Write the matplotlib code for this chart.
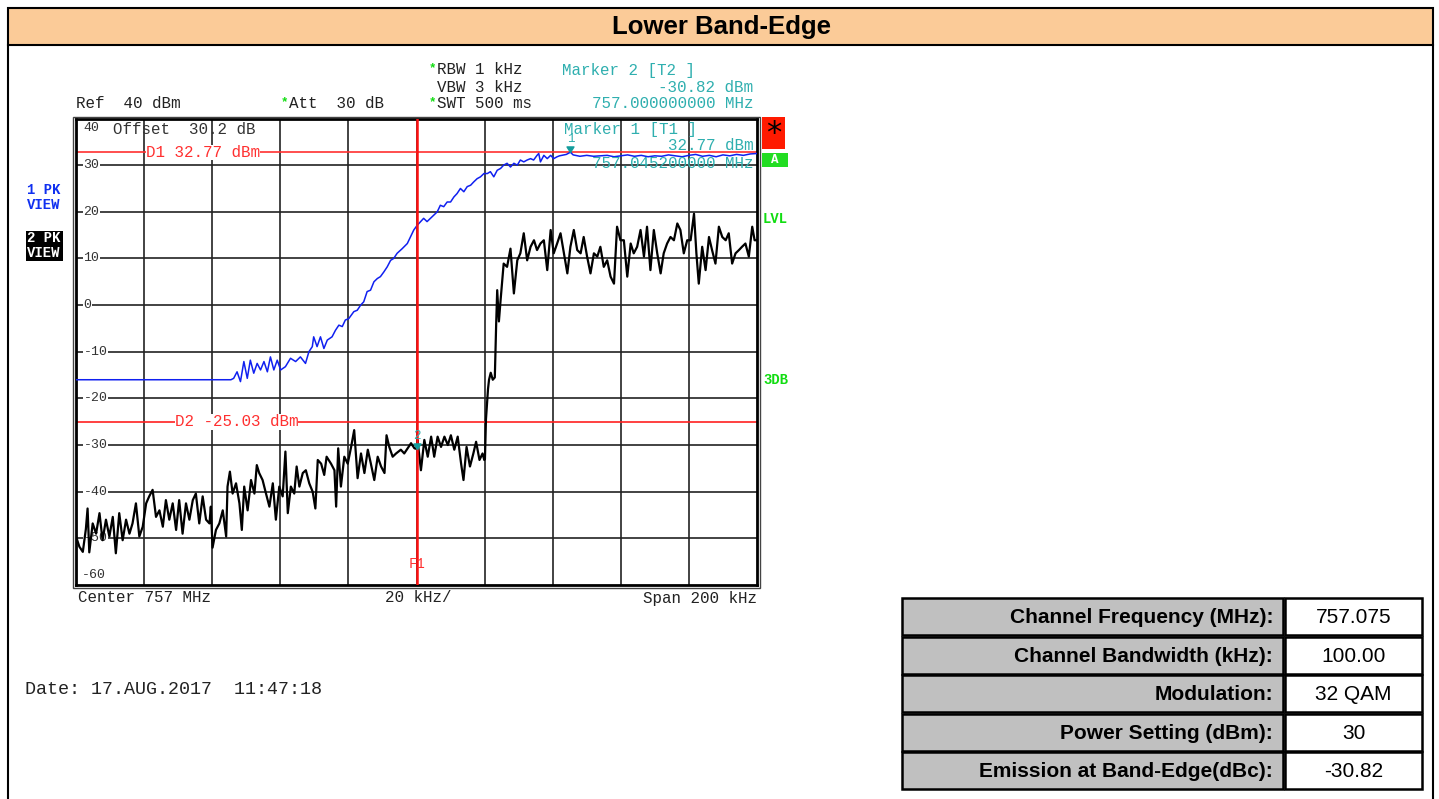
import matplotlib
matplotlib.use("Agg")
import matplotlib.pyplot as plt
from matplotlib.patches import Rectangle
from matplotlib.path import Path

# ---------------- data ----------------
title_text = "Lower Band-Edge"

# Trace 1 (blue, PK view): frequency offset from 757 MHz in kHz, level in dBm
trace1_freq_khz = [-100, -54.5, -53.7, -52.7, -51.7, -50.7, -49.7, -48.8, -47.8, -46.8,
                   -45.8, -44.8, -43.8, -42.9, -41.9, -40.9, -39.9, -38.5, -37.0, -35.5,
                   -34.1, -32.6, -31.6, -30.6, -30.2, -29.2, -28.2, -27.2, -26.2, -24.8,
                   -23.8, -22.8, -21.8, -20.9, -19.9, -18.4, -17.4, -16.4, -15.5, -14.5,
                   -13.5, -12.5, -11.5, -10.6, -9.6, -8.6, -7.6, -6.7, -5.7, -4.2,
                   -2.7, -1.8, -0.8, 0.2, 1.2, 2.1, 3.1, 4.1, 5.1, 6.1,
                   7.0, 8.0, 9.0, 10.0, 11.0, 11.9, 12.9, 13.9, 14.9, 15.9,
                   16.8, 17.8, 18.8, 19.8, 20.8, 21.7, 22.7, 23.7, 24.7, 25.6,
                   26.6, 27.6, 28.6, 29.6, 30.5, 31.5, 32.5, 33.5, 34.4, 35.4,
                   35.9, 36.4, 37.4, 38.4, 39.4, 40.3, 41.3, 42.0, 44.0, 45.2,
                   46.0, 48.0, 50.0, 52.0, 54.0, 56.0, 58.0, 60.0, 62.0, 64.0,
                   66.0, 68.0, 70.0, 72.0, 74.0, 76.0, 78.0, 80.0, 82.0, 84.0,
                   86.0, 88.0, 90.0, 92.0, 94.0, 96.0, 98.0, 100.0]
trace1_level_dbm = [-16.0, -16.0, -15.7, -14.3, -16.4, -12.1, -15.7, -11.8, -14.6, -12.5,
                    -13.9, -12.1, -14.3, -11.1, -13.9, -11.8, -13.9, -13.2, -11.4, -12.1,
                    -11.1, -12.5, -10.0, -8.9, -6.8, -8.9, -6.8, -9.3, -7.5, -6.8,
                    -5.4, -4.3, -4.6, -3.2, -2.9, -1.4, -1.1, 0.0, 0.7, 2.9,
                    3.2, 5.0, 5.7, 6.1, 7.1, 8.2, 9.6, 10.0, 11.1, 12.1,
                    13.2, 14.6, 16.1, 17.1, 17.9, 18.6, 17.9, 18.6, 19.3, 20.0,
                    21.4, 21.1, 22.1, 22.1, 23.2, 23.9, 25.0, 24.3, 25.4, 25.7,
                    26.4, 27.1, 27.5, 28.2, 28.2, 28.6, 27.5, 28.9, 29.3, 30.0,
                    30.4, 29.6, 30.4, 30.0, 31.1, 30.7, 31.1, 31.4, 31.1, 32.1,
                    32.5, 30.7, 32.1, 31.4, 32.1, 31.4, 31.8, 32.0, 32.3, 32.77,
                    32.2, 31.9, 32.1, 31.9, 32.0, 32.1, 31.8, 32.0, 32.2, 31.9,
                    32.1, 31.8, 32.0, 31.9, 32.2, 32.0, 31.8, 32.1, 32.3, 31.9,
                    32.1, 31.8, 32.2, 32.0, 32.3, 32.1, 32.4, 32.5]

# Trace 2 (black, PK view)
trace2_freq_khz = [-100.0, -99.0, -98.0, -97.1, -96.6, -96.1, -95.1, -94.1, -93.1, -92.2,
                   -91.2, -90.2, -89.2, -88.3, -87.3, -86.3, -85.3, -84.3, -83.4, -82.4,
                   -81.4, -80.4, -79.4, -78.5, -77.5, -76.5, -75.5, -74.5, -73.6, -72.6,
                   -71.6, -70.6, -69.7, -68.7, -67.7, -66.7, -65.7, -64.8, -63.8, -62.8,
                   -61.8, -60.8, -60.4, -59.9, -58.9, -57.9, -56.9, -55.9, -55.5, -54.8,
                   -54.0, -53.0, -52.0, -51.3, -50.6, -49.6, -48.6, -47.6, -46.9, -46.2,
                   -45.2, -44.2, -43.2, -42.2, -41.3, -40.3, -39.3, -38.5, -37.8, -36.9,
                   -35.9, -35.2, -34.4, -33.4, -32.5, -31.5, -30.5, -29.7, -29.0, -28.0,
                   -27.1, -26.4, -25.1, -24.1, -23.6, -23.0, -22.2, -21.2, -20.2, -19.2,
                   -18.3, -17.3, -16.3, -15.3, -14.3, -13.4, -12.4, -11.4, -10.4, -9.4,
                   -8.8, -8.0, -7.0, -6.0, -4.6, -3.6, -2.6, -1.6, -0.6, 0.0,
                   0.3, 1.3, 2.3, 3.3, 4.3, 5.2, 6.2, 7.2, 8.2, 9.2,
                   10.1, 11.1, 12.1, 13.1, 13.8, 14.7, 15.7, 16.7, 17.5, 18.5,
                   19.4, 19.9, 20.1, 20.4, 21.0, 21.3, 21.8, 22.4, 23.0, 23.4,
                   23.7, 24.2, 24.7, 25.6, 26.6, 27.6, 28.6, 29.6, 30.5, 31.5,
                   32.5, 33.5, 34.5, 35.4, 36.4, 37.4, 38.4, 39.4, 40.3, 41.3,
                   42.3, 43.3, 44.3, 45.2, 46.2, 47.2, 48.2, 49.1, 50.1, 51.1,
                   52.1, 53.1, 54.0, 55.0, 56.0, 57.0, 58.0, 58.9, 59.9, 60.9,
                   61.9, 62.9, 63.8, 64.8, 65.8, 66.8, 67.7, 68.7, 69.7, 70.7,
                   71.7, 72.6, 73.6, 74.6, 75.6, 76.6, 77.5, 78.5, 79.5, 80.5,
                   81.5, 82.2, 82.9, 83.9, 84.9, 85.9, 86.8, 87.8, 88.8, 89.8,
                   90.8, 91.7, 92.7, 93.7, 94.7, 95.6, 96.6, 97.6, 98.6, 99.3,
                   100.0]
trace2_level_dbm = [-49.6, -51.8, -52.9, -48.0, -43.6, -53.0, -46.8, -49.0, -44.6, -50.4,
                    -46.0, -49.6, -45.4, -53.2, -44.6, -50.4, -46.0, -49.0, -46.8, -42.5,
                    -49.6, -47.5, -42.5, -41.0, -39.6, -45.4, -44.0, -47.5, -41.8, -46.0,
                    -42.5, -48.2, -41.8, -49.0, -42.5, -46.0, -41.8, -40.4, -46.8, -41.0,
                    -46.0, -46.8, -43.2, -52.0, -48.2, -46.8, -44.0, -49.6, -38.9, -35.7,
                    -40.4, -38.2, -42.5, -48.2, -38.9, -44.0, -37.5, -40.4, -34.3, -36.0,
                    -37.5, -40.4, -43.2, -38.2, -46.0, -38.9, -41.0, -31.4, -44.6, -38.9,
                    -40.4, -34.6, -38.9, -36.0, -35.4, -38.2, -40.0, -43.6, -33.2, -34.0,
                    -36.4, -32.5, -34.0, -35.4, -43.2, -30.7, -38.9, -32.5, -34.0, -30.4,
                    -26.8, -37.1, -31.8, -36.0, -31.0, -34.0, -37.5, -32.5, -34.6, -36.0,
                    -27.9, -30.4, -32.5, -31.8, -31.0, -31.8, -30.7, -29.6, -30.7, -30.82,
                    -28.9, -35.4, -28.9, -32.5, -28.2, -32.5, -28.2, -30.4, -28.2, -30.0,
                    -27.9, -31.0, -28.2, -34.0, -37.5, -30.4, -34.6, -31.8, -29.3, -33.2,
                    -31.8, -33.2, -33.0, -24.5, -18.0, -16.0, -14.5, -16.0, -15.5, -4.0,
                    3.2, -3.5, 1.1, 8.9, 8.2, 12.1, 2.5, 9.6, 11.1, 15.4,
                    9.6, 12.5, 13.9, 11.8, 13.2, 13.9, 7.5, 16.1, 11.1, 13.2,
                    15.4, 11.1, 6.8, 12.5, 16.1, 11.8, 11.1, 14.6, 10.4, 6.8,
                    11.1, 10.4, 12.5, 8.2, 9.6, 6.1, 4.6, 16.8, 13.9, 13.9,
                    6.1, 13.2, 11.1, 12.5, 16.1, 10.4, 16.8, 7.5, 16.1, 11.1,
                    6.8, 11.1, 13.2, 14.6, 13.9, 17.5, 16.1, 11.1, 13.9, 13.9,
                    19.6, 11.1, 4.6, 12.5, 7.5, 14.6, 11.8, 8.9, 16.8, 14.6,
                    13.9, 15.4, 8.9, 11.1, 11.8, 12.5, 13.2, 10.4, 16.8, 13.9,
                    13.9]

y_levels = [40, 30, 20, 10, 0, -10, -20, -30, -40, -50, -60]
x_divisions_khz = [-100, -80, -60, -40, -20, 0, 20, 40, 60, 80, 100]
d1_level_dbm = 32.77
d2_level_dbm = -25.03
f1_freq_khz = 0.0
marker1_freq_khz, marker1_level_dbm = 45.2, 32.77
marker2_freq_khz, marker2_level_dbm = 0.0, -30.82

table_labels = ["Channel Frequency (MHz):", "Channel Bandwidth (kHz):", "Modulation:",
                "Power Setting (dBm):", "Emission at Band-Edge(dBc):"]
table_values = ["757.075", "100.00", "32 QAM", "30", "-30.82"]

# ---------------- layout helpers ----------------
W, H = 1439, 799
fig = plt.figure(figsize=(W / 100, H / 100), dpi=100)
fig.patch.set_facecolor("white")


def fx(x):
    return x / W


def fy(y):
    return 1 - y / H


MONO = "Liberation Mono"
TEAL = "#2FAFAF"
GREEN = "#11DD11"
GRID = "#222222"
FS = 11.4  # main monospace font size

# outer frame and title bar
fig.add_artist(Rectangle((fx(8), fy(45)), fx(1433) - fx(8), fy(8) - fy(45),
                         transform=fig.transFigure, facecolor="#FBCB98",
                         edgecolor="black", linewidth=1.5, zorder=0))
fig.add_artist(plt.Line2D([fx(8), fx(8)], [fy(45), fy(800)], transform=fig.transFigure,
                          color="black", linewidth=1.5))
fig.add_artist(plt.Line2D([fx(1433), fx(1433)], [fy(45), fy(800)], transform=fig.transFigure,
                          color="black", linewidth=1.5))
fig.text(fx(721), fy(27), title_text, ha="center", va="center", fontsize=18.5,
         fontweight="bold", family="Liberation Sans")

# ---------------- spectrum axes ----------------
ax_l, ax_r, ax_t, ax_b = 76, 757, 118.5, 585
ax = fig.add_axes([fx(ax_l), fy(ax_b), fx(ax_r) - fx(ax_l), fy(ax_t) - fy(ax_b)])
ax.set_xlim(x_divisions_khz[0], x_divisions_khz[-1])
ax.set_ylim(y_levels[-1], y_levels[0])
ax.set_xticks([])
ax.set_yticks([])
for s in ax.spines.values():
    s.set_linewidth(2.0)
    s.set_color("black")

for xv in x_divisions_khz[1:-1]:
    ax.axvline(xv, color=GRID, linewidth=1.2, zorder=1)
for yv in y_levels[1:-1]:
    ax.axhline(yv, color=GRID, linewidth=1.2, zorder=1)

# second (outer) frame line
fig.add_artist(Rectangle((fx(ax_l - 3), fy(ax_b + 3)), fx(ax_r + 3) - fx(ax_l - 3),
                         fy(ax_t - 1.5) - fy(ax_b + 3), transform=fig.transFigure,
                         facecolor="none", edgecolor="#444444", linewidth=1.0))

# level labels inside the grid
ytr = ax.get_yaxis_transform()
for yv in y_levels:
    if yv == y_levels[0]:
        ax.text(0.011, yv - 0.8, str(yv), transform=ytr, ha="left", va="top", fontsize=9.5,
                family=MONO, color="#333333", zorder=3)
    elif yv == y_levels[-1]:
        ax.text(0.009, yv + 0.8, str(yv), transform=ytr, ha="left", va="bottom", fontsize=9.5,
                family=MONO, color="#333333", zorder=3)
    else:
        ax.text(0.011, yv, str(yv), transform=ytr, ha="left", va="center", fontsize=9.5,
                family=MONO, color="#333333", zorder=3,
                bbox=dict(facecolor="white", edgecolor="none", pad=0.3))

# display lines
ax.axhline(d1_level_dbm, color="#FF3030", linewidth=1.2, zorder=2)
ax.axhline(d2_level_dbm, color="#FF2020", linewidth=1.2, zorder=2)
ax.text(-79.5, d1_level_dbm, f"D1 {d1_level_dbm:.2f} dBm", ha="left", va="center",
        fontsize=FS, family=MONO, color="#FF3030", zorder=3,
        bbox=dict(facecolor="white", edgecolor="none", pad=0.1))
ax.text(-71.0, d2_level_dbm, f"D2 {d2_level_dbm:.2f} dBm", ha="left", va="center",
        fontsize=FS, family=MONO, color="#FF3030", zorder=3,
        bbox=dict(facecolor="white", edgecolor="none", pad=0.1))

# traces
ax.plot(trace2_freq_khz, trace2_level_dbm, color="black", linewidth=1.6, zorder=4)
ax.plot(trace1_freq_khz, trace1_level_dbm, color="#1020F0", linewidth=1.1, zorder=5)

# frequency line F1
ax.axvline(f1_freq_khz, color="#FF1010", linewidth=1.8, zorder=6)
ax.text(f1_freq_khz, -55.5, "F1", ha="center", va="center", fontsize=10, family=MONO,
        color="#FF3030", zorder=7)

# markers (triangle apex on the trace)
tri = Path([(-1, 1.6), (1, 1.6), (0, 0), (-1, 1.6)],
           [Path.MOVETO, Path.LINETO, Path.LINETO, Path.CLOSEPOLY])
for (mf, ml, lab) in [(marker1_freq_khz, marker1_level_dbm, "1"),
                      (marker2_freq_khz, marker2_level_dbm, "2")]:
    ax.plot([mf], [ml], marker=tri, markersize=8, color="#139C9C", linestyle="none",
            zorder=8)
    ax.annotate(lab, (mf, ml), xytext=(0, 5), textcoords="offset points", ha="center",
                va="bottom", fontsize=9, family=MONO, color=TEAL, zorder=8)

# marker 1 readout inside the grid
ax.text(0.716, 0.976, "Marker 1 [T1 ]", transform=ax.transAxes, ha="left", va="center",
        fontsize=FS, family=MONO, color=TEAL, zorder=9)
fig.text(fx(753), fy(146), f"{marker1_level_dbm:.2f} dBm", ha="right", va="center",
         fontsize=FS, family=MONO, color=TEAL, zorder=9)
fig.text(fx(753), fy(163), f"{757 + marker1_freq_khz / 1000:.9f} MHz", ha="right",
         va="center", fontsize=FS, family=MONO, color=TEAL, zorder=9)
ax.text(0.054, 0.976, "Offset  30.2 dB", transform=ax.transAxes, ha="left", va="center",
        fontsize=FS, family=MONO, color="#333333", zorder=9)

# ---------------- header texts ----------------
def mono(x, y, s, color="#222222", ha="left", size=FS, weight="normal"):
    fig.text(fx(x), fy(y), s, ha=ha, va="center", fontsize=size, family=MONO,
             color=color, fontweight=weight)


mono(76, 104, "Ref  40 dBm")
mono(289, 104, "Att  30 dB")
mono(437, 70, "RBW 1 kHz")
mono(437, 87, "VBW 3 kHz")
mono(437, 104, "SWT 500 ms")
for (x, y) in [(281, 102), (429, 68), (429, 102)]:
    mono(x, y, "*", color=GREEN, size=9, weight="bold")
mono(562, 70, "Marker 2 [T2 ]", color=TEAL)
mono(753, 87, f"{marker2_level_dbm:.2f} dBm", color=TEAL, ha="right")
mono(753, 104, f"{757 + marker2_freq_khz / 1000:.9f} MHz", color=TEAL, ha="right")

mono(78, 598, "Center 757 MHz")
mono(385, 598, "20 kHz/")
mono(757, 598, "Span 200 kHz", ha="right")
mono(25, 690, "Date: 17.AUG.2017  11:47:18", size=13.2)

# left side trace labels
mono(27, 190, "1 PK", color="#1030F0", size=10, weight="bold")
mono(27, 205, "VIEW", color="#1030F0", size=10, weight="bold")
fig.add_artist(Rectangle((fx(26), fy(261)), fx(63) - fx(26), fy(231) - fy(261),
                         transform=fig.transFigure, facecolor="black", edgecolor="none"))
mono(27, 238, "2 PK", color="white", size=10, weight="bold")
mono(27, 253, "VIEW", color="white", size=10, weight="bold")

# right side status labels
fig.add_artist(Rectangle((fx(762), fy(149)), fx(785) - fx(762), fy(117) - fy(149),
                         transform=fig.transFigure, facecolor="#FF1A00", edgecolor="none"))
fig.text(fx(773.5), fy(134), "*", ha="center", va="center", fontsize=22, color="black",
         family="DejaVu Sans")
fig.add_artist(Rectangle((fx(762), fy(167)), fx(788) - fx(762), fy(153) - fy(167),
                         transform=fig.transFigure, facecolor="#22DD22", edgecolor="none"))
mono(775, 160, "A", color="white", size=9, weight="bold", ha="center")
mono(763, 219, "LVL", color=GREEN, size=10, weight="bold")
mono(763, 380, "3DB", color=GREEN, size=10, weight="bold")

# ---------------- table ----------------
tab_l, tab_mid, tab_r = 902, 1283, 1422
row_top = [598, 637, 675, 714, 752]
row_h = 37
for i, (lab, val) in enumerate(zip(table_labels, table_values)):
    top = row_top[i]
    fig.add_artist(Rectangle((fx(tab_l), fy(top + row_h)), fx(tab_mid) - fx(tab_l),
                             fy(top) - fy(top + row_h), transform=fig.transFigure,
                             facecolor="#C0C0C0", edgecolor="black", linewidth=1.8))
    fig.add_artist(Rectangle((fx(tab_mid + 2), fy(top + row_h)), fx(tab_r) - fx(tab_mid + 2),
                             fy(top) - fy(top + row_h), transform=fig.transFigure,
                             facecolor="white", edgecolor="black", linewidth=1.8))
    fig.text(fx(tab_mid - 10), fy(top + row_h / 2 + 1), lab, ha="right", va="center",
             fontsize=15, fontweight="bold", family="Liberation Sans")
    fig.text(fx((tab_mid + tab_r) / 2 + 1), fy(top + row_h / 2 + 1), val, ha="center",
             va="center", fontsize=15, family="Liberation Sans")

fig.savefig("out.png", dpi=100, facecolor="white")
